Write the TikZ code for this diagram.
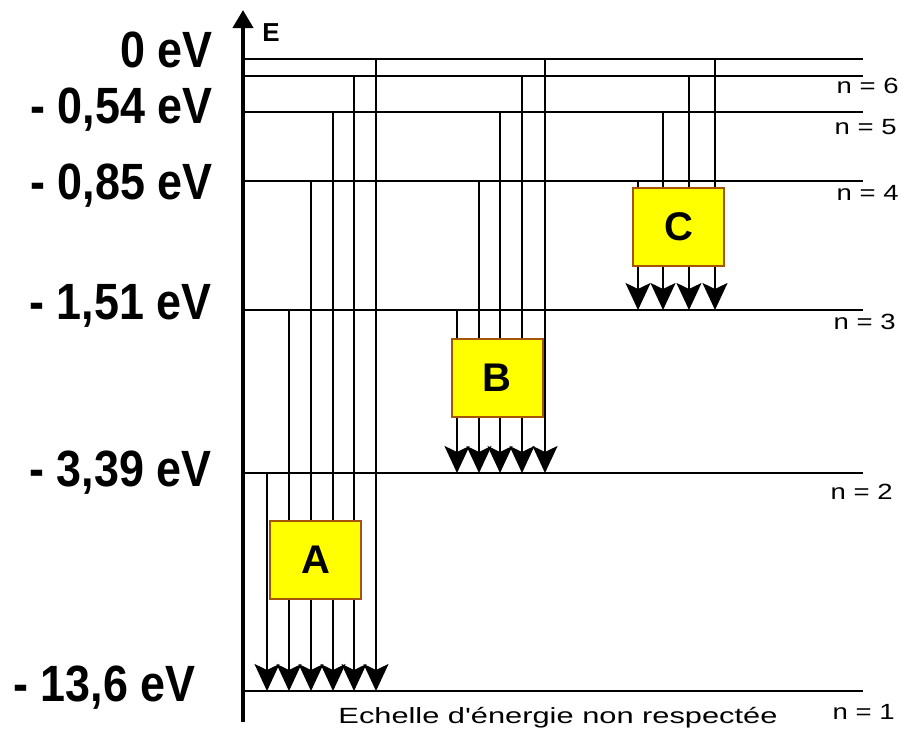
\documentclass[tikz,border=0pt]{standalone}
\usepackage{fontspec}
\setmainfont{Liberation Sans}
\newfontfamily\evfont[FakeStretch=0.88]{Liberation Sans}
\newfontfamily\widefont[FakeStretch=1.4]{Liberation Sans}
\newfontfamily\levfont[FakeStretch=1.25]{Liberation Sans}
\usepackage{tikz}
\usetikzlibrary{arrows.meta}
\definecolor{boxyellow}{RGB}{255,255,0}
\definecolor{boxedge}{RGB}{165,85,10}

\begin{document}
\begin{tikzpicture}[x=0.5pt, y=-0.5pt,
    level/.style={line width=1pt},
    trans/.style={-{Stealth[width=12.5pt, length=13.5pt, inset=3pt]}, line width=1pt},
    axis/.style={-{Triangle[width=10pt, length=9pt]}, line width=2pt},
    ebox/.style={draw=boxedge, line width=1pt, fill=boxyellow, minimum width=45.5pt, minimum height=39pt, font=\bfseries\fontsize{20}{20}\selectfont},
    energy/.style={anchor=east, inner sep=0pt, font=\evfont\bfseries\fontsize{25.5}{25.5}\selectfont},
    nlabel/.style={anchor=east, inner sep=0pt, font=\levfont\fontsize{11}{11}\selectfont}
]
    \useasboundingbox (0,0) rectangle (904,735);

    % Energy axis
    \coordinate (O) at (243,722);
    \coordinate (Etop) at (243,10);
    \draw[axis] (O) -- (Etop);
    \node[font=\bfseries\fontsize{13}{13}\selectfont] (E) at (271,33) {E};

    % Levels
    \foreach \n/\y in {1/691, 2/473, 3/310, 4/181, 5/112, 6/76, inf/59} {
        \coordinate (L\n) at (243,\y);
        \coordinate (R\n) at (863,\y);
        \draw[level] (L\n) -- (R\n);
    }

    % Energy values
    \node[energy] (e0) at (213,50) {0 eV};
    \node[energy] (e6) at (213,110) {- 0,54 eV};
    \node[energy] (e5) at (213,186) {- 0,85 eV};
    \node[energy] (e4) at (212,306) {- 1,51 eV};
    \node[energy] (e3) at (212,473) {- 3,39 eV};
    \node[energy] (e1) at (196,688) {- 13,6 eV};

    % Level names
    \node[nlabel] (n6) at (899,86) {n = 6};
    \node[nlabel] (n5) at (897,127) {n = 5};
    \node[nlabel] (n4) at (899,193) {n = 4};
    \node[nlabel] (n3) at (896,322) {n = 3};
    \node[nlabel] (n2) at (893,492) {n = 2};
    \node[nlabel] (n1) at (895,712) {n = 1};

    % Transitions down to n = 1, 2, 3
    \foreach \x/\n in {267/2, 289/3, 311/4, 333/5, 354/6, 376/inf}
        \draw[trans] (L\n -| \x,0) -- (L1 -| \x,0);
    \foreach \x/\n in {457/3, 479/4, 500/5, 522/6, 545/inf}
        \draw[trans] (L\n -| \x,0) -- (L2 -| \x,0);
    \foreach \x/\n in {638/4, 663/5, 689/6, 715/inf}
        \draw[trans] (L\n -| \x,0) -- (L3 -| \x,0);

    % Series boxes
    \node[ebox] (A) at (315.5,559.5) {A};
    \node[ebox] (B) at (497,377.5) {B};
    \node[ebox] (C) at (678.5,226.5) {C};

    \node[font=\widefont\fontsize{11}{11}\selectfont] (note) at (558,718) {Echelle d'énergie non respectée};

\end{tikzpicture}
\end{document}
